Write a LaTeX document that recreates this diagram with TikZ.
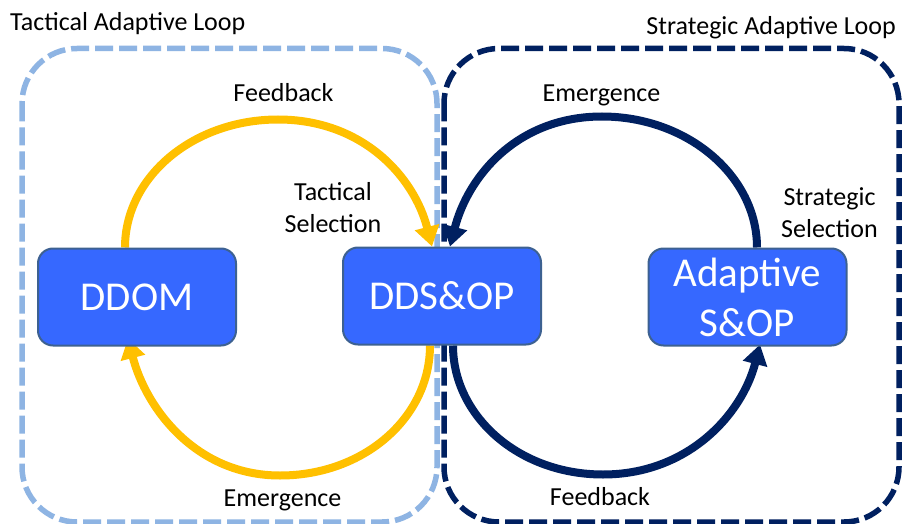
\documentclass[tikz,border=0pt]{standalone}
\usepackage{fontspec}
\setmainfont{Carlito}
\usetikzlibrary{arrows.meta}
\definecolor{tacframe}{HTML}{8EB4E3}
\definecolor{stratnavy}{HTML}{002060}
\definecolor{tacorange}{HTML}{FFC000}
\definecolor{boxfill}{HTML}{3668FF}
\definecolor{boxline}{HTML}{3D6191}
\pgfdeclarelayer{back}
\pgfsetlayers{back,main}
\begin{document}
\begin{tikzpicture}[x=1pt,y=-1pt,
  loopframe/.style={line width=5.5pt, dash pattern=on 18pt off 6pt, rounded corners=55pt},
  stage/.style={draw=boxline, fill=boxfill, line width=2pt, rounded corners=15pt,
    minimum width=198pt, minimum height=97pt, inner sep=0pt, text=white,
    align=center, font=\fontsize{41}{50}\selectfont},
  lbl/.style={font=\fontsize{26}{32}\selectfont, inner sep=0pt, text=black},
  flowtip/.style={-{Triangle[length=20pt,width=24pt]}},
  tacflow/.style={draw=tacorange, line width=8pt, flowtip},
  strflow/.style={draw=stratnavy, line width=8pt, flowtip}]
\useasboundingbox (0,0) rectangle (902,524);

% planning stages
\node[stage] (ddom)  at (137,297)   {DDOM};
\node[stage] (ddsop) at (442,296)   {DDS\&OP};
\node[stage] (asop)  at (747.5,297) {Adaptive\\S\&OP};

% loop captions and flow labels
\node[lbl, anchor=base west] (tacname) at (10,31)  {Tactical Adaptive Loop};
\node[lbl, anchor=base east] (strname) at (896,35) {Strategic Adaptive Loop};
\node[lbl, anchor=base] (tacfb) at (283.5,102) {Feedback};
\node[lbl, anchor=base, align=center] (tacsel) at (333,232) {Tactical\\Selection};
\node[lbl, anchor=base] (tacem) at (282.5,506) {Emergence};
\node[lbl, anchor=base] (strem) at (601.5,102) {Emergence};
\node[lbl, anchor=base, align=center] (strsel) at (829.5,237) {Strategic\\Selection};
\node[lbl, anchor=base] (strfb) at (600,505) {Feedback};

\begin{pgfonlayer}{back}
  \fill[white] (0,0) rectangle (902,524);

  % dashed loop frames
  \draw[loopframe, draw=tacframe] (22,48.5) rectangle (437,522);
  \draw[loopframe, draw=stratnavy] (444,48.5) rectangle (899,522);

  % tactical loop
  \draw[tacflow] ([xshift=-12pt]ddom.north)
    .. controls +(0,-71) and +(-84.5,0) .. ++(153,-128)
    .. controls +(84.5,0) and +(-18,-70) .. ([xshift=-10pt]ddsop.north);
  \draw[tacflow] ([xshift=-12pt]ddsop.south)
    .. controls +(0,72) and +(84,0) .. ++(-150,130)
    .. controls +(-84,0) and +(18,70) .. ([xshift=-9pt,yshift=8pt]ddom.south);

  % strategic loop
  \draw[strflow] ([xshift=9.5pt]asop.north)
    .. controls +(0,-72) and +(85,0) .. ++(-155,-131)
    .. controls +(-85,0) and +(18,-70) .. ([xshift=8pt]ddsop.north);
  \draw[strflow] ([xshift=11pt]ddsop.south)
    .. controls +(0,70) and +(-85,0) .. ++(150,129)
    .. controls +(85,0) and +(-18,70) .. ([xshift=12.5pt,yshift=2pt]asop.south);
\end{pgfonlayer}
\end{tikzpicture}
\end{document}
